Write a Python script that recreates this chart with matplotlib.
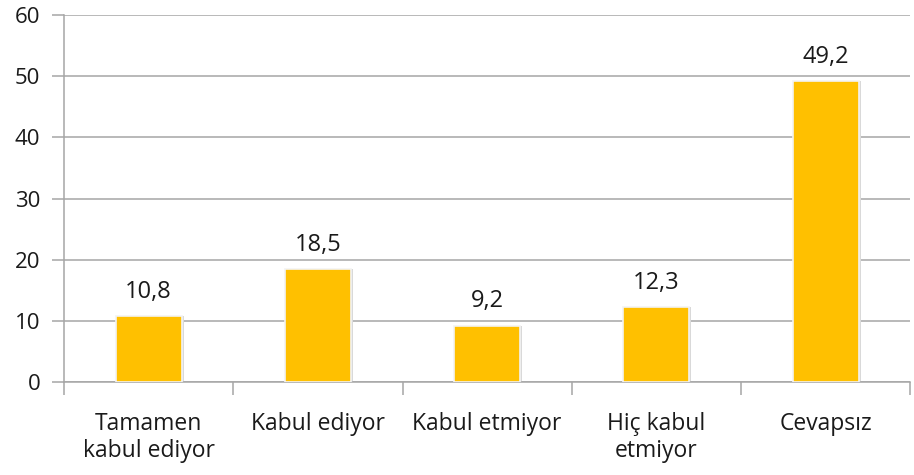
import numpy as np
import matplotlib
matplotlib.use("Agg")
import matplotlib.pyplot as plt

categories = ["Tamamen\nkabul ediyor", "Kabul ediyor", "Kabul etmiyor",
              "Hiç kabul\netmiyor", "Cevapsız"]
values = [10.8, 18.5, 9.2, 12.3, 49.2]
value_labels = ["10,8", "18,5", "9,2", "12,3", "49,2"]
yticks = [0, 10, 20, 30, 40, 50, 60]

plt.rcParams["font.family"] = ["Open Sans", "DejaVu Sans"]

fig = plt.figure(figsize=(9.14, 4.75), dpi=100)
ax = fig.add_axes([0.070, 0.196, 0.926, 0.772])

x = np.arange(len(categories))
grid_c = "#a6a6a6"
for y in yticks:
    ax.axhline(y, color=grid_c, lw=1.1, zorder=1)

# light shadow then bar
ax.bar(x + 0.012, values, width=0.39, color="#d9d9d9", zorder=2)
ax.bar(x, values, width=0.39, color="#FFC000", edgecolor="#f3f3f3",
       linewidth=1.2, zorder=3)

for xi, v, lab in zip(x, values, value_labels):
    ax.text(xi, v + 2.0, lab, ha="center", va="bottom", fontsize=17,
            color="#1a1a1a")

ax.set_xlim(-0.5, 4.5)
ax.set_ylim(0, 60)
ax.set_yticks(yticks)
ax.set_yticklabels([str(t) for t in yticks], fontsize=16, color="#1a1a1a")
ax.tick_params(axis="y", length=9, color=grid_c, width=1.1, pad=8)

ax.set_xticks(x)
ax.set_xticklabels(categories, fontsize=16.5, linespacing=1.15, color="#1a1a1a")
ax.tick_params(axis="x", which="major", length=0, pad=22)
ax.set_xticks(np.arange(-0.5, 5.0, 1.0), minor=True)
ax.tick_params(axis="x", which="minor", length=9, color=grid_c, width=1.1)

for s in ["top", "right"]:
    ax.spines[s].set_visible(False)
for s in ["left", "bottom"]:
    ax.spines[s].set_color(grid_c)
    ax.spines[s].set_linewidth(1.1)

fig.savefig("out.png", dpi=100)
